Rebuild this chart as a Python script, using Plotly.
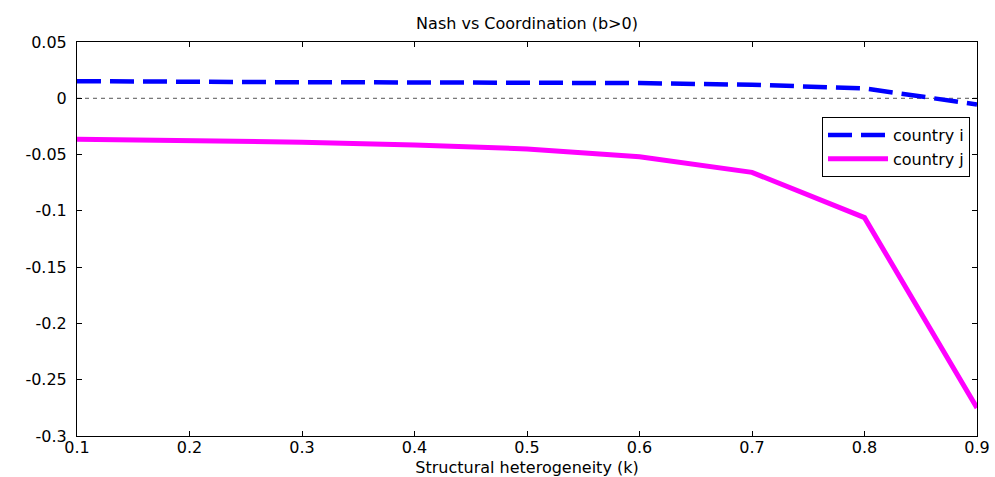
import plotly.graph_objects as go

k = [0.1, 0.2, 0.3, 0.4, 0.5, 0.6, 0.7, 0.8, 0.9]
country_i = [0.0152, 0.0145, 0.0142, 0.0141, 0.014, 0.0135, 0.012, 0.0088, -0.0055]
country_j = [-0.0365, -0.0375, -0.039, -0.0415, -0.045, -0.052, -0.0658, -0.106, -0.275]
x_ticks = [0.1, 0.2, 0.3, 0.4, 0.5, 0.6, 0.7, 0.8, 0.9]
y_ticks = [0.05, 0, -0.05, -0.1, -0.15, -0.2, -0.25, -0.3]
y_tick_text = ["0.05", "0", "-0.05", "-0.1", "-0.15", "-0.2", "-0.25", "-0.3"]
x_tick_text = ["0.1", "0.2", "0.3", "0.4", "0.5", "0.6", "0.7", "0.8", "0.9"]

font = "DejaVu Sans, Verdana, sans-serif"
fs = 16

fig = go.Figure()
fig.add_trace(go.Scatter(x=[k[0], k[-1]], y=[0, 0], mode="lines",
                         line=dict(color="#555555", width=1, dash="4px,4px"),
                         showlegend=False, hoverinfo="skip"))
fig.add_trace(go.Scatter(x=k, y=country_i, mode="lines", name="country i",
                         line=dict(color="#0000ff", width=4.5, dash="24px,9px")))
fig.add_trace(go.Scatter(x=k, y=country_j, mode="lines", name="country j",
                         line=dict(color="#ff00ff", width=5)))

axis_common = dict(showline=True, linecolor="black", linewidth=1, mirror="ticks",
                   ticks="inside", ticklen=5, tickcolor="black", showgrid=False,
                   zeroline=False, automargin=False,
                   tickfont=dict(family=font, size=fs, color="black"))

fig.update_layout(
    width=995, height=477,
    margin=dict(l=77, r=18, t=42, b=41),
    paper_bgcolor="white", plot_bgcolor="white",
    title=dict(text="Nash vs Coordination (b>0)", x=(77 + 977) / 2 / 995, xanchor="center",
               y=1 - 23 / 477, yanchor="middle", yref="container",
               font=dict(family=font, size=fs, color="black")),
    xaxis=dict(range=[0.1, 0.9], tickvals=x_ticks, ticktext=x_tick_text,
               ticklabelstandoff=-3,
               title=dict(text="Structural heterogeneity (k)", standoff=6,
                          font=dict(family=font, size=fs, color="black")),
               **axis_common),
    yaxis=dict(range=[-0.3, 0.05], tickvals=y_ticks, ticktext=y_tick_text,
               ticklabelstandoff=6, **axis_common),
    legend=dict(x=(970 - 77) / 900, xanchor="right",
                y=(436 - 117) / 394, yanchor="top",
                bordercolor="black", borderwidth=1, bgcolor="white",
                font=dict(family=font, size=fs, color="black"),
                tracegroupgap=0, itemwidth=60),
    showlegend=True,
)

fig.write_html("out.html")
